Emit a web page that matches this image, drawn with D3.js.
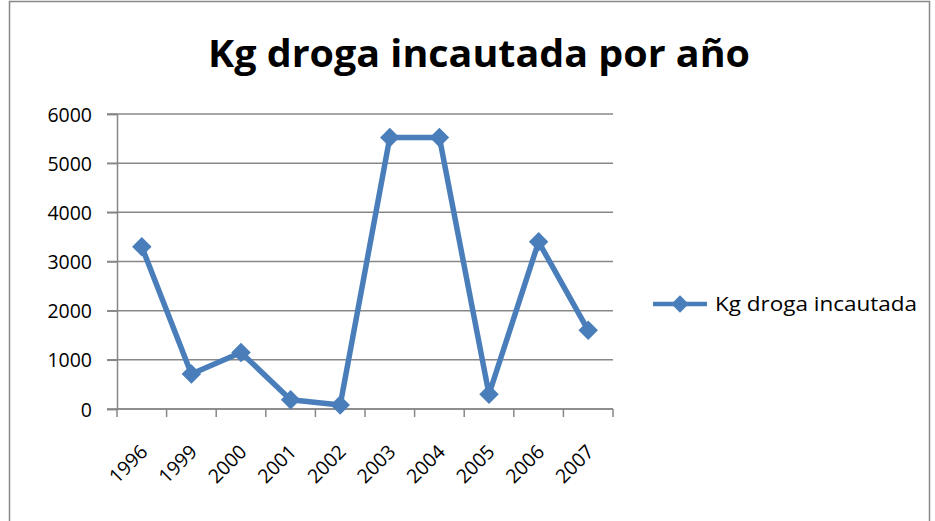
<!DOCTYPE html>
<html>
<head>
<meta charset="utf-8">
<script src="https://cdn.jsdelivr.net/npm/d3@7"></script>
<style>
  body { margin: 0; background: #fff; }
  text { font-family: "Open Sans", "Liberation Sans", sans-serif; fill: #000; }
</style>
</head>
<body>
<div id="chart"></div>
<script>
// data
const years = ["1996", "1999", "2000", "2001", "2002", "2003", "2004", "2005", "2006", "2007"];
const kgSeized = [3300, 710, 1150, 190, 80, 5520, 5520, 300, 3400, 1600];
const yTicks = [0, 1000, 2000, 3000, 4000, 5000, 6000];
const seriesName = "Kg droga incautada";
const chartTitle = "Kg droga incautada por año";

const width = 935, height = 521;
const blue = "#4a7ebb", gray = "#878787";
const plot = {left: 117, right: 613, top: 114, bottom: 409};

const svg = d3.select("#chart").append("svg")
  .attr("width", width)
  .attr("height", height);

// chart border
svg.append("rect")
  .attr("x", 9.5).attr("y", 1.5)
  .attr("width", 920).attr("height", 530)
  .attr("fill", "none").attr("stroke", gray).attr("stroke-width", 1.5);

svg.append("text")
  .attr("x", 479).attr("y", 67)
  .attr("text-anchor", "middle")
  .attr("font-size", 38).attr("font-weight", "bold")
  .attr("textLength", 542).attr("lengthAdjust", "spacingAndGlyphs")
  .text(chartTitle);

let x = d3.scaleBand().domain(years).range([plot.left, plot.right]);
let y = d3.scaleLinear().domain([0, 6000]).range([plot.bottom, plot.top]);

// gridlines (start left of the axis, like outside ticks)
svg.append("g").selectAll("line")
  .data(yTicks)
  .enter().append("line")
  .attr("x1", plot.left - 10).attr("x2", plot.right)
  .attr("y1", d => y(d)).attr("y2", d => y(d))
  .attr("stroke", gray).attr("stroke-width", 1.5);

// y axis
let yAxis = svg.append("g")
  .attr("transform", "translate(" + plot.left + ",0)")
  .call(d3.axisLeft(y).tickValues(yTicks).tickFormat(d3.format("d")).tickSize(10).tickPadding(15));
yAxis.select(".domain").attr("stroke", gray).attr("stroke-width", 1.5);
yAxis.selectAll(".tick line").attr("stroke", gray).attr("stroke-width", 1.5);
yAxis.selectAll("text")
  .attr("font-size", 19.5)
  .attr("font-family", "Open Sans, sans-serif")
  .attr("fill", "#000")
  .attr("dy", "0.36em");

// x axis - ticks on band edges
let xg = svg.append("g");
xg.append("line")
  .attr("x1", plot.left).attr("x2", plot.right)
  .attr("y1", plot.bottom).attr("y2", plot.bottom)
  .attr("stroke", gray).attr("stroke-width", 1.5);
let edges = years.map(d => x(d)).concat([plot.right]);
xg.selectAll(".xtick")
  .data(edges)
  .enter().append("line")
  .attr("class", "xtick")
  .attr("x1", d => d).attr("x2", d => d)
  .attr("y1", plot.bottom).attr("y2", plot.bottom + 8)
  .attr("stroke", gray).attr("stroke-width", 1.5);
xg.selectAll(".xlabel")
  .data(years)
  .enter().append("text")
  .attr("class", "xlabel")
  .attr("text-anchor", "end")
  .attr("font-size", 19.5)
  .attr("transform", d => {
    let cx = x(d) + x.bandwidth() / 2 + 7;
    return "translate(" + cx + "," + (plot.bottom + 44) + ")rotate(-45)";
  })
  .text(d => d);

// series line
let line = d3.line()
  .x((d, i) => x(years[i]) + x.bandwidth() / 2)
  .y(d => y(d));

svg.append("path")
  .datum(kgSeized)
  .attr("d", line)
  .attr("fill", "none")
  .attr("stroke", blue)
  .attr("stroke-width", 5.5)
  .attr("stroke-linejoin", "round");

let diamond = d3.symbol().type(d3.symbolSquare).size(190);
svg.append("g").selectAll("path")
  .data(kgSeized)
  .enter().append("path")
  .attr("d", diamond)
  .attr("fill", blue)
  .attr("transform", (d, i) => "translate(" + (x(years[i]) + x.bandwidth() / 2) + "," + y(d) + ")rotate(45)");

// legend
let lg = svg.append("g").attr("transform", "translate(653,304)");
lg.append("line")
  .attr("x1", 0).attr("x2", 54)
  .attr("stroke", blue).attr("stroke-width", 4.5);
lg.append("path")
  .attr("d", d3.symbol().type(d3.symbolSquare).size(150))
  .attr("fill", blue)
  .attr("transform", "translate(27,0)rotate(45)");
lg.append("text")
  .attr("x", 62).attr("dy", "0.35em")
  .attr("font-size", 19.5)
  .attr("textLength", 202).attr("lengthAdjust", "spacingAndGlyphs")
  .text(seriesName);
</script>
</body>
</html>
